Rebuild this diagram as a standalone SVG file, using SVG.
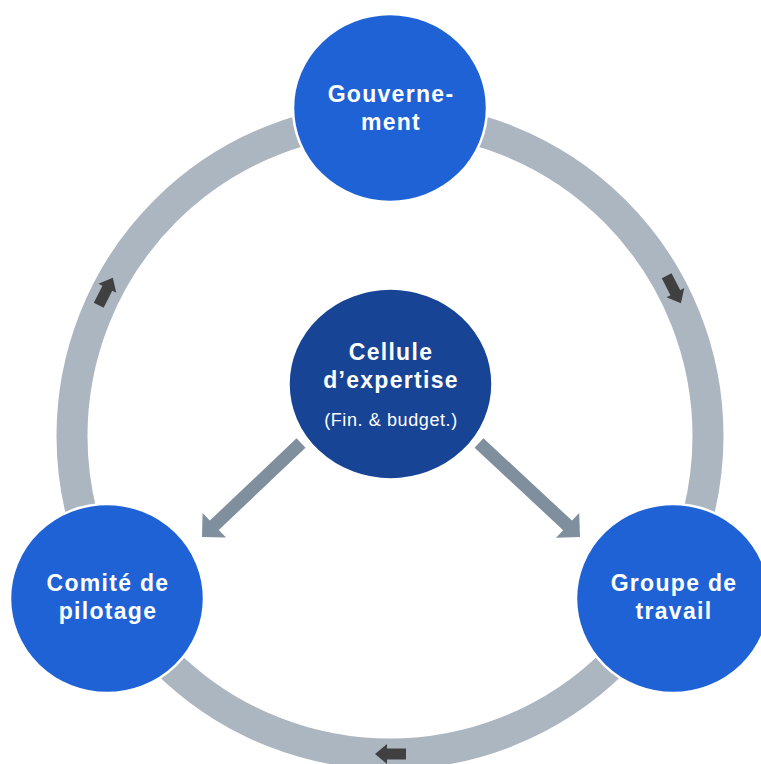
<svg xmlns="http://www.w3.org/2000/svg" xmlns:xlink="http://www.w3.org/1999/xlink" width="761" height="764" viewBox="0 0 761 764">
<style>
.ring{fill:none;stroke:#abb6c1;stroke-width:31}
.rarrow{fill:#404040}
.carrow{fill:#808f9e}
.node{fill:#1e62d6;stroke:#ffffff;stroke-width:2.5}
.core{fill:#184496;stroke:#ffffff;stroke-width:2.5}
.t{font-family:"Liberation Sans",Arial,sans-serif;font-weight:bold;font-size:23px;letter-spacing:1.3px;fill:#ffffff;text-anchor:middle}
.s{font-family:"Liberation Sans",Arial,sans-serif;font-size:18px;letter-spacing:0.6px;fill:#ffffff;text-anchor:middle}
</style>
<defs>
<polygon id="ra" points="-16,-5.5 3,-5.5 3,-10 15,0 3,10 3,5.5 -16,5.5"/>
</defs>
<rect width="761" height="764" fill="#ffffff"/>
<g id="connectors">
<circle class="ring" cx="390" cy="436" r="318"/>
<use xlink:href="#ra" class="rarrow" transform="translate(674,290) rotate(62.7)"/>
<use xlink:href="#ra" class="rarrow" transform="translate(106,291) rotate(-63)"/>
<use xlink:href="#ra" class="rarrow" transform="translate(390,754) rotate(180)"/>
<polygon class="carrow" points="296.5,438.3 305.5,447.7 218.8,530.0 226.0,537.6 202,537 202.6,513.0 209.8,520.6"/>
<polygon class="carrow" points="483.4,438.2 474.6,447.8 563.2,530.2 556.0,537.8 580,537 579.2,513.0 572.0,520.6"/>
</g>
<g id="gouvernement">
<ellipse class="node" cx="390" cy="108" rx="97" ry="94"/>
<text class="t" x="391" y="102">Gouverne-</text>
<text class="t" x="391" y="130">ment</text>
</g>
<g id="comite">
<ellipse class="node" cx="107" cy="598.5" rx="97" ry="94.5"/>
<text class="t" x="108" y="591">Comité de</text>
<text class="t" x="108" y="619">pilotage</text>
</g>
<g id="groupe">
<ellipse class="node" cx="673" cy="598.5" rx="97" ry="94.5"/>
<text class="t" x="674" y="591">Groupe de</text>
<text class="t" x="674" y="619">travail</text>
</g>
<g id="cellule">
<ellipse class="core" cx="390.5" cy="384" rx="102" ry="95.5"/>
<text class="t" x="391" y="360">Cellule</text>
<text class="t" x="391" y="388">d’expertise</text>
<text class="s" x="391" y="426">(Fin. &amp; budget.)</text>
</g>
</svg>
